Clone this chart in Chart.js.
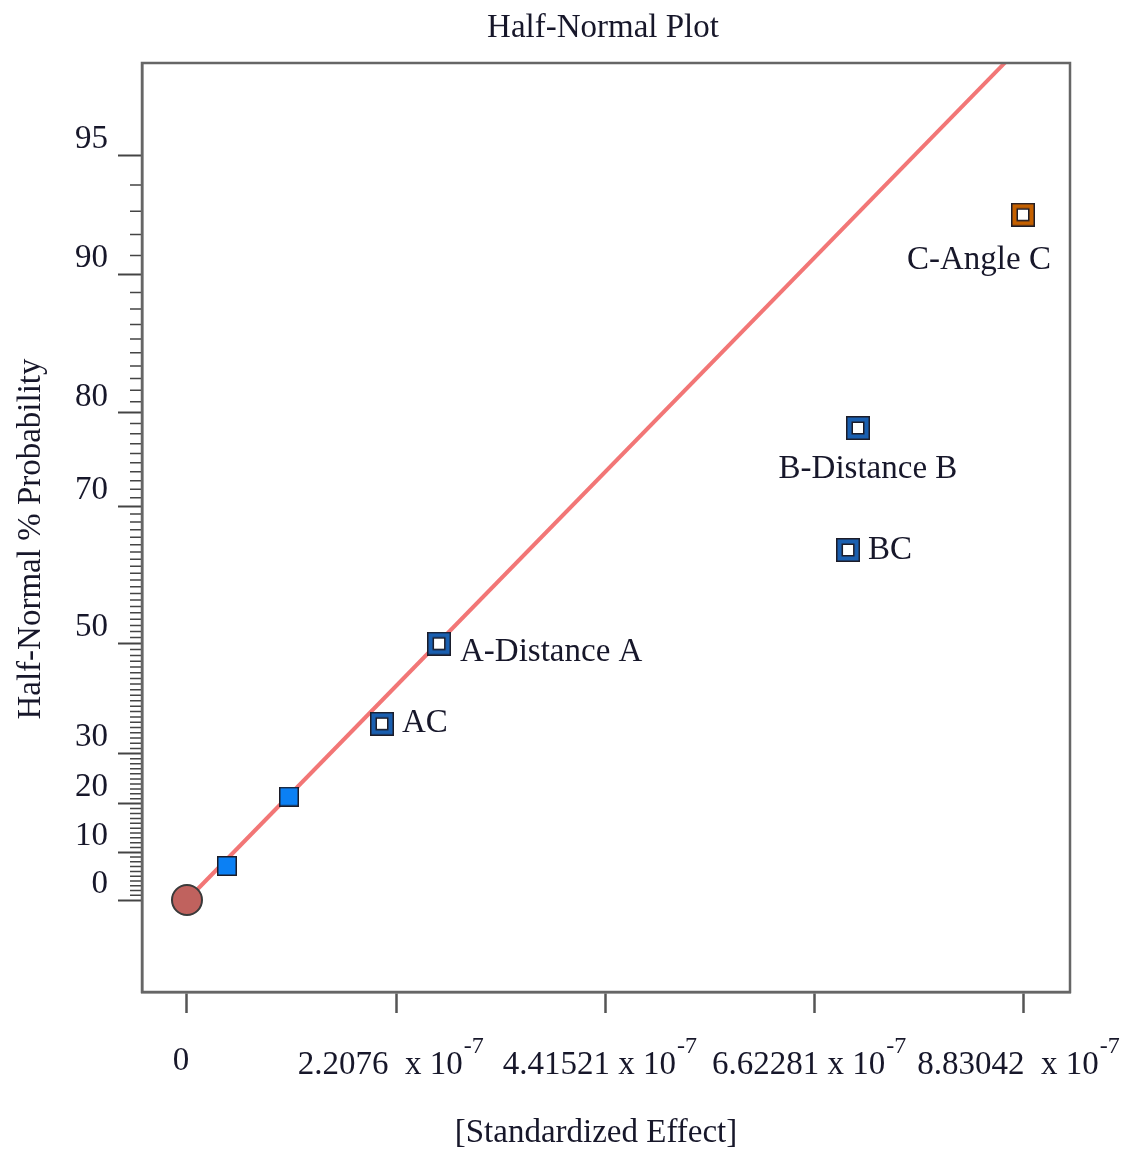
<!DOCTYPE html>
<html>
<head>
<meta charset="utf-8">
<title>Half-Normal Plot</title>
<script src="https://cdn.jsdelivr.net/npm/chart.js@4.4.1/dist/chart.umd.min.js"></script>
<style>
  html, body { margin: 0; padding: 0; background: #ffffff; }
  canvas { display: block; }
</style>
</head>
<body>
<canvas id="chart" width="1135" height="1153"></canvas>
<script>
// ---- Effects (standardized, absolute) and their half-normal plotting positions ----
const termNames     = ['', '', 'AC', 'A-Distance A', 'BC', 'B-Distance B', 'C-Angle C'];
const termEffects   = [0.422e-7, 1.076e-7, 2.057e-7, 2.659e-7, 6.974e-7, 7.079e-7, 8.820e-7];
const termPercent   = [7.14, 21.43, 35.71, 50.00, 64.29, 78.57, 92.86];
const termType      = ['error', 'error', 'negative', 'negative', 'negative', 'negative', 'positive'];

// Origin marker and the reference line through the error estimates
const originEffect  = [0];
const originPercent = [0];
const fitEffect     = [0, 8.63e-7];
const fitPercent    = [0, 97.24];

// Axis ticks
const xTickValues   = [0, 2.2076e-7, 4.41521e-7, 6.62281e-7, 8.83042e-7];
const xTickMantissa = ['0', '2.2076  ', '4.41521 ', '6.62281 ', '8.83042  '];
const xTickExponent = '-7';
const yMajorPercent = [0, 10, 20, 30, 50, 70, 80, 90, 95];
const yMinorPercent = [];
for (let p = 1; p < 95; p++) if (!yMajorPercent.includes(p)) yMinorPercent.push(p);

// Inverse standard normal CDF (Acklam's rational approximation)
function normInv(p) {
  const a = [-3.969683028665376e+01, 2.209460984245205e+02, -2.759285104469687e+02,
             1.383577518672690e+02, -3.066479806614716e+01, 2.506628277459239e+00];
  const b = [-5.447609879822406e+01, 1.615858368580409e+02, -1.556989798598866e+02,
             6.680131188771972e+01, -1.328068155288572e+01];
  const c = [-7.784894002430293e-03, -3.223964580411365e-01, -2.400758277161838e+00,
             -2.549671010115138e+00, 4.374664141464968e+00, 2.938163982698783e+00];
  const d = [7.784695709041462e-03, 3.224671290700398e-01, 2.445134137142996e+00,
             3.754408661907416e+00];
  const pl = 0.02425, ph = 1 - pl;
  let q, r;
  if (p < pl) {
    q = Math.sqrt(-2 * Math.log(p));
    return (((((c[0]*q+c[1])*q+c[2])*q+c[3])*q+c[4])*q+c[5]) / ((((d[0]*q+d[1])*q+d[2])*q+d[3])*q+1);
  }
  if (p <= ph) {
    q = p - 0.5; r = q * q;
    return (((((a[0]*r+a[1])*r+a[2])*r+a[3])*r+a[4])*r+a[5])*q / (((((b[0]*r+b[1])*r+b[2])*r+b[3])*r+b[4])*r+1);
  }
  q = Math.sqrt(-2 * Math.log(1 - p));
  return -(((((c[0]*q+c[1])*q+c[2])*q+c[3])*q+c[4])*q+c[5]) / ((((d[0]*q+d[1])*q+d[2])*q+d[3])*q+1);
}
// Half-normal probability (%) -> position on the probability axis
function halfNormalZ(pct) { return pct <= 0 ? 0 : normInv(0.5 + pct / 200); }

// ---- Marker glyphs ----
function squareGlyph(band) {
  const s = 24, cv = document.createElement('canvas');
  cv.width = s; cv.height = s;
  const g = cv.getContext('2d');
  g.fillStyle = '#1c1c28'; g.fillRect(0, 0, s, s);
  g.fillStyle = band;      g.fillRect(1.5, 1.5, s - 3, s - 3);
  g.fillStyle = '#1c1c28'; g.fillRect(5.5, 5.5, s - 11, s - 11);
  g.fillStyle = '#ffffff'; g.fillRect(7, 7, s - 14, s - 14);
  return cv;
}
function filledGlyph(fill) {
  const s = 20, cv = document.createElement('canvas');
  cv.width = s; cv.height = s;
  const g = cv.getContext('2d');
  g.fillStyle = '#1c1c28'; g.fillRect(0, 0, s, s);
  g.fillStyle = fill;      g.fillRect(1.5, 1.5, s - 3, s - 3);
  return cv;
}
const glyphs = {
  error: filledGlyph('#0b80f4'),
  negative: squareGlyph('#1a5fb0'),
  positive: squareGlyph('#c46000')
};

// Placement of the term captions around their markers
const captionPlacement = [null, null,
  { dx: 20, dy: 0, align: 'left' },
  { dx: 21, dy: 9, align: 'left' },
  { dx: 20, dy: 0, align: 'left' },
  { dx: 10, dy: 41, align: 'center' },
  { dx: -44, dy: 46, align: 'center' }];

const SERIF = '"Liberation Serif", "Times New Roman", serif';
const INK = '#17172a';
const FONT_PX = 33;

const decorations = {
  id: 'decorations',
  afterDraw(chart) {
    const { ctx, chartArea: a, scales: { x, y } } = chart;
    ctx.save();

    // minor ticks on the probability axis
    ctx.strokeStyle = '#444';
    ctx.lineWidth = 1.5;
    ctx.beginPath();
    yMinorPercent.forEach(p => {
      const py = y.getPixelForValue(halfNormalZ(p));
      ctx.moveTo(a.left - 12, py);
      ctx.lineTo(a.left, py);
    });
    ctx.stroke();

    // plot frame
    ctx.strokeStyle = '#666';
    ctx.lineWidth = 2.5;
    ctx.strokeRect(a.left, a.top, a.right - a.left, a.bottom - a.top);

    // x tick labels with power-of-ten notation
    ctx.fillStyle = INK;
    ctx.textBaseline = 'alphabetic';
    const mainFont = FONT_PX + 'px ' + SERIF, supFont = '24px ' + SERIF;
    xTickValues.forEach((v, i) => {
      const cx = x.getPixelForValue(v);
      const base = 1074;
      if (xTickMantissa[i] === '0') {
        ctx.font = mainFont; ctx.textAlign = 'center';
        ctx.fillText('0', cx - 6, base - 4);
        return;
      }
      const main = xTickMantissa[i] + 'x 10';
      ctx.font = mainFont; const wm = ctx.measureText(main).width;
      ctx.font = supFont;  const ws = ctx.measureText(xTickExponent).width;
      const start = cx - (wm + ws) / 2 - 6;
      ctx.textAlign = 'left';
      ctx.font = mainFont; ctx.fillText(main, start, base);
      ctx.font = supFont;  ctx.fillText(xTickExponent, start + wm + 1, base - 21);
    });

    // titles
    ctx.textAlign = 'center';
    ctx.textBaseline = 'middle';
    ctx.font = FONT_PX + 'px ' + SERIF;
    ctx.fillText('Half-Normal Plot', 603, 28);
    ctx.fillText('[Standardized Effect]', 596, 1133);
    ctx.save();
    ctx.translate(31, 539);
    ctx.rotate(-Math.PI / 2);
    ctx.fillText('Half-Normal % Probability', 0, 0);
    ctx.restore();

    // term captions
    const meta = chart.getDatasetMeta(2);
    ctx.font = FONT_PX + 'px ' + SERIF;
    ctx.textBaseline = 'middle';
    meta.data.forEach((pt, i) => {
      const c = captionPlacement[i];
      if (!c || !termNames[i]) return;
      ctx.textAlign = c.align;
      ctx.fillText(termNames[i], pt.x + c.dx, pt.y + c.dy);
    });
    ctx.restore();
  }
};

new Chart(document.getElementById('chart'), {
  type: 'scatter',
  data: {
    datasets: [
      {
        type: 'line',
        data: fitEffect.map((e, i) => ({ x: e, y: halfNormalZ(fitPercent[i]) })),
        borderColor: '#f27676',
        borderWidth: 4,
        pointRadius: 0,
        fill: false,
        order: 3
      },
      {
        data: originEffect.map((e, i) => ({ x: e, y: halfNormalZ(originPercent[i]) })),
        pointStyle: 'circle',
        pointRadius: 15,
        backgroundColor: '#c0625e',
        borderColor: '#3a3a3a',
        borderWidth: 2,
        order: 2
      },
      {
        data: termEffects.map((e, i) => ({ x: e, y: halfNormalZ(termPercent[i]) })),
        pointStyle: ctx => glyphs[termType[ctx.dataIndex]],
        pointRadius: 12,
        order: 1
      }
    ]
  },
  options: {
    responsive: false,
    animation: false,
    events: [],
    layout: { padding: { top: 63, right: 65, left: 0, bottom: 0 } },
    plugins: { legend: { display: false }, tooltip: { enabled: false }, title: { display: false } },
    scales: {
      x: {
        type: 'linear',
        min: -0.4747e-7,
        max: 9.316e-7,
        afterBuildTicks: s => { s.ticks = xTickValues.map(v => ({ value: v })); },
        afterFit: s => { s.height = 161; },
        ticks: { display: false },
        grid: { drawOnChartArea: false, drawTicks: true, tickLength: 21, tickColor: '#555', tickWidth: 2.5 },
        border: { display: true, color: '#666', width: 2.5 }
      },
      y: {
        type: 'linear',
        min: -0.242,
        max: 2.202,
        afterBuildTicks: s => { s.ticks = yMajorPercent.map(p => ({ value: halfNormalZ(p) })); },
        afterFit: s => { s.width = 142; },
        ticks: {
          autoSkip: false,
          callback: (v, i) => String(yMajorPercent[i]),
          font: { family: SERIF, size: FONT_PX },
          color: INK,
          padding: 10,
          labelOffset: -16
        },
        grid: { drawOnChartArea: false, drawTicks: true, tickLength: 24, tickColor: '#444', tickWidth: 2 },
        border: { display: true, color: '#666', width: 2.5 }
      }
    }
  },
  plugins: [decorations]
});
</script>
</body>
</html>
